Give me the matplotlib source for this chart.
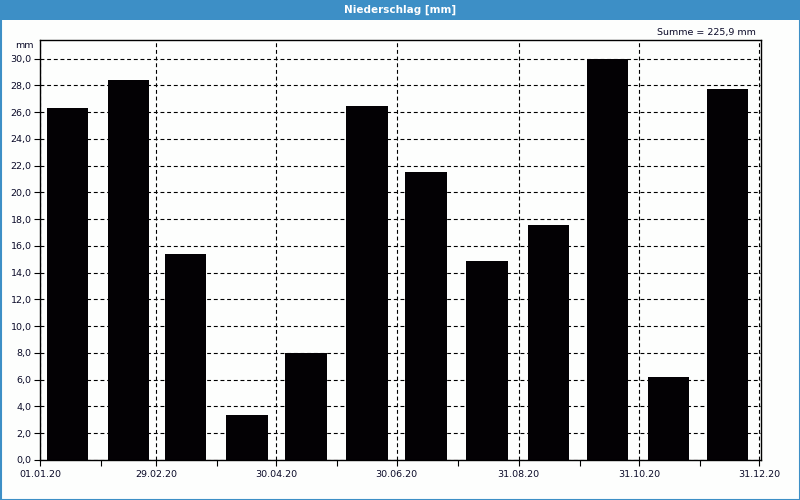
import matplotlib
matplotlib.use("Agg")
import matplotlib.pyplot as plt
import matplotlib.dates as mdates
from matplotlib.patches import Rectangle
from matplotlib.ticker import FuncFormatter, MultipleLocator
import datetime as dt

# monthly precipitation 2020 [mm]
months = [dt.date(2020, m, 15) for m in range(1, 13)]
values = [26.3, 28.4, 15.4, 3.4, 8.0, 26.5, 21.5, 14.9, 17.6, 30.0, 6.2, 27.7]

major_dates = [dt.date(2020, 1, 1), dt.date(2020, 2, 29), dt.date(2020, 4, 30),
               dt.date(2020, 6, 30), dt.date(2020, 8, 31), dt.date(2020, 10, 31),
               dt.date(2020, 12, 31)]
minor_dates = [dt.date(2020, 2, 1), dt.date(2020, 3, 31), dt.date(2020, 5, 31),
               dt.date(2020, 7, 31), dt.date(2020, 10, 1), dt.date(2020, 12, 1)]

title = "Niederschlag [mm]"
blue = "#3d8fc6"
txt = "#0a0a28"

fig = plt.figure(figsize=(8, 5), dpi=100)
fig.patch.set_facecolor("#fdfefd")

# title bar + frame
fig.patches.append(Rectangle((0, 1 - 20 / 500), 1, 20 / 500, transform=fig.transFigure,
                             facecolor=blue, edgecolor="none", zorder=0))
fig.patches.append(Rectangle((0.5 / 800, 0.5 / 500), 1 - 1 / 800, 1 - 1 / 500,
                             transform=fig.transFigure, facecolor="none",
                             edgecolor=blue, lw=1.5, zorder=0))
fig.text(0.5, 1 - 10 / 500, title, color="white", fontsize=7.5, fontweight="bold",
         ha="center", va="center")

ax = fig.add_axes([40 / 800, 40 / 500, 721 / 800, 420 / 500])
ax.set_facecolor("#fdfefd")

# grid first, bars on top of it
ax.set_axisbelow(True)
ax.grid(True, which="major", axis="both", color="black", lw=0.8,
        linestyle=(0, (3.5, 2.5)), zorder=0)
ax.bar(months, values, width=21, color="#030104", zorder=2)

ax.set_xlim(dt.date(2020, 1, 1), dt.date(2021, 1, 1))
ax.set_ylim(0, 31.4)

ax.set_xticks(major_dates)
ax.set_xticks(minor_dates, minor=True)
ax.xaxis.set_major_formatter(mdates.DateFormatter("%d.%m.%y"))
ax.yaxis.set_major_locator(MultipleLocator(2))
ax.yaxis.set_major_formatter(FuncFormatter(lambda v, p: f"{v:.1f}".replace(".", ",")))

ax.tick_params(axis="both", which="both", direction="out", length=4, width=0.8,
               labelsize=6.8, color="black", labelcolor=txt, pad=3)
ax.tick_params(axis="y", pad=2)

for s in ax.spines.values():
    s.set_linewidth(1.0)
    s.set_color("black")
    s.set_zorder(3)

fig.text(34 / 800, 1 - 45 / 500, "mm", fontsize=6.8, color=txt, ha="right", va="center")
total = sum(values)
fig.text(756 / 800, 1 - 32 / 500, f"Summe = {total:.1f} mm".replace(".", ","),
         fontsize=6.8, color=txt, ha="right", va="center")

fig.savefig("out.png", dpi=100, facecolor=fig.get_facecolor())
